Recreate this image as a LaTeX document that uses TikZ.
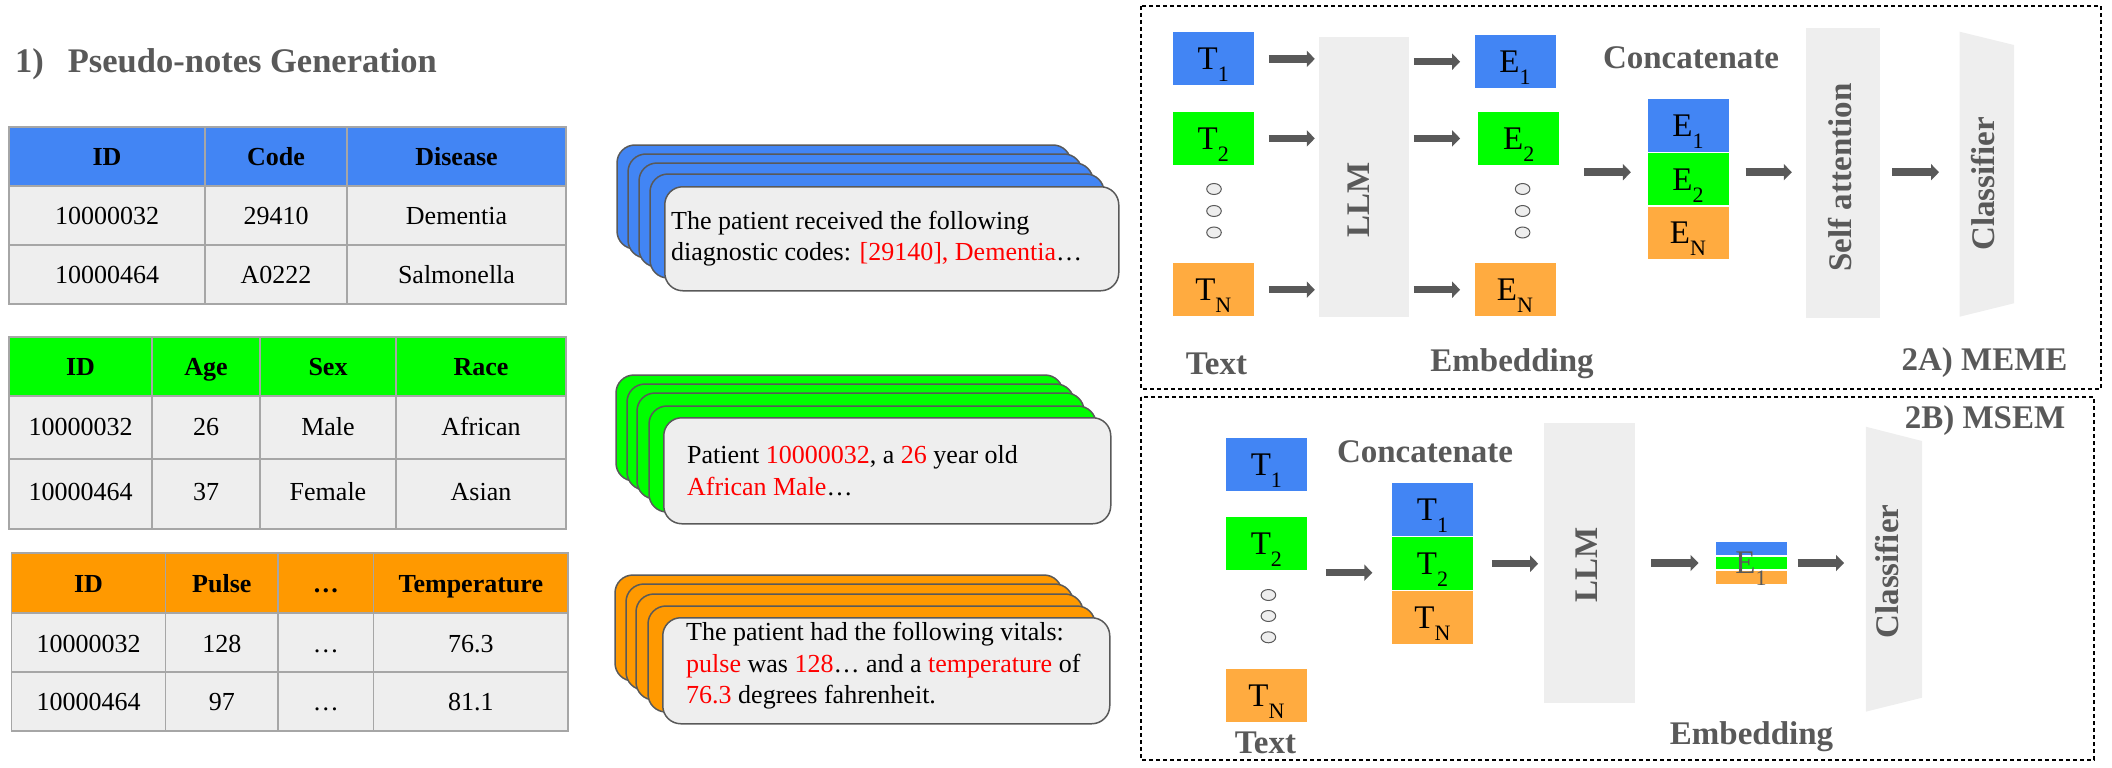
\documentclass[tikz,border=0pt]{standalone}
\usepackage{fontspec}
\setmainfont{Liberation Serif}
\usetikzlibrary{arrows.meta,calc}

\definecolor{gblue}{HTML}{4285F4}
\definecolor{ggreen}{HTML}{00FF00}
\definecolor{gorange}{HTML}{FF9900}
\definecolor{torange}{HTML}{FFAB40}
\definecolor{boxgray}{HTML}{EEEEEE}
\definecolor{gridgray}{HTML}{A6A6A6}
\definecolor{darkgray}{HTML}{595959}

\newcommand{\fs}[1]{\fontsize{#1}{#1}\selectfont}
\newcommand{\tsub}[2]{#1\raisebox{-12pt}[0pt][0pt]{\fs{22}#2}}

\tikzset{
	th/.style={font=\fs{26}\bfseries, inner sep=0pt, text height=18.5pt, text depth=0pt},
	td/.style={font=\fs{26}, inner sep=0pt, text height=18.5pt, text depth=0pt},
	tabline/.style={draw=gridgray, line width=1.5pt},
	card/.style={draw=darkgray, line width=1.5pt, rounded corners=18pt},
	notetext/.style={font=\fontsize{26}{31.7}\selectfont, align=left, inner sep=0pt},
	tok/.style={minimum width=82pt, minimum height=54pt, inner sep=0pt, font=\fs{33}, draw=white, line width=1pt},
	blk/.style={fill=boxgray, inner sep=0pt},
	lbl/.style={font=\fs{33}\bfseries, text=darkgray, inner sep=0pt},
	arr/.style={draw=darkgray, line width=7.5pt, -{Triangle[width=16pt,length=8pt]}},
	vdot/.style={draw=darkgray, fill=boxgray, line width=1pt},
	panel/.style={draw=black, line width=1.2pt, dash pattern=on 4pt off 3pt}
}

\begin{document}
\begin{tikzpicture}[x=1pt, y=-1pt]
	\useasboundingbox (0,0) rectangle (2112,768);

	\node[lbl, font=\fs{34.5}\bfseries, anchor=base west] (title) at (15,72.7) {1)\hspace{24pt}Pseudo-notes Generation};

	% diagnoses table
	\fill[gblue] (9,127) rectangle (566,186);
	\fill[boxgray] (9,186) rectangle (566,304);
	\draw[tabline] (9,127) rectangle (566,304)
		(9,186) -- (566,186) (9,245) -- (566,245)
		(205,127) -- (205,304) (347,127) -- (347,304);
	\node[th] (dx-id) at (107,156.5) {ID};
	\node[th] (dx-code) at (276,156.5) {Code};
	\node[th] (dx-dis) at (456.5,156.5) {Disease};
	\node[td] (dx-id1) at (107,215.5) {10000032};
	\node[td] (dx-code1) at (276,215.5) {29410};
	\node[td] (dx-dis1) at (456.5,215.5) {Dementia};
	\node[td] (dx-id2) at (107,274.5) {10000464};
	\node[td] (dx-code2) at (276,274.5) {A0222};
	\node[td] (dx-dis2) at (456.5,274.5) {Salmonella};

	% demographics table
	\fill[ggreen] (9,337) rectangle (566,396);
	\fill[boxgray] (9,396) rectangle (566,529);
	\draw[tabline] (9,337) rectangle (566,529)
		(9,396) -- (566,396) (9,459) -- (566,459)
		(152,337) -- (152,529) (260,337) -- (260,529) (396,337) -- (396,529);
	\node[th] (dm-id) at (80.5,366.5) {ID};
	\node[th] (dm-age) at (206,366.5) {Age};
	\node[th] (dm-sex) at (328,366.5) {Sex};
	\node[th] (dm-race) at (481,366.5) {Race};
	\node[td] (dm-id1) at (80.5,426) {10000032};
	\node[td] (dm-age1) at (206,426) {26};
	\node[td] (dm-sex1) at (328,426) {Male};
	\node[td] (dm-race1) at (481,426) {African};
	\node[td] (dm-id2) at (80.5,491) {10000464};
	\node[td] (dm-age2) at (206,491) {37};
	\node[td] (dm-sex2) at (328,491) {Female};
	\node[td] (dm-race2) at (481,491) {Asian};

	% vitals table
	\fill[gorange] (11.5,553) rectangle (568,613);
	\fill[boxgray] (11.5,613) rectangle (568,731);
	\draw[tabline] (11.5,553) rectangle (568,731)
		(11.5,613) -- (568,613) (11.5,672) -- (568,672)
		(165.5,553) -- (165.5,731) (278,553) -- (278,731) (373.6,553) -- (373.6,731);
	\node[th] (vt-id) at (88.5,583.3) {ID};
	\node[th] (vt-pulse) at (221.8,583.3) {Pulse};
	\node[th] (vt-dots) at (325.8,583.3) {…};
	\node[th] (vt-temp) at (470.8,583.3) {Temperature};
	\node[td] (vt-id1) at (88.5,643) {10000032};
	\node[td] (vt-pulse1) at (221.8,643) {128};
	\node[td] (vt-dots1) at (325.8,643) {…};
	\node[td] (vt-temp1) at (470.8,643) {76.3};
	\node[td] (vt-id2) at (88.5,701.7) {10000464};
	\node[td] (vt-pulse2) at (221.8,701.7) {97};
	\node[td] (vt-dots2) at (325.8,701.7) {…};
	\node[td] (vt-temp2) at (470.8,701.7) {81.1};

	% pseudo-notes
	\draw[card, fill=gblue] (617,145) rectangle ++(454,104);
	\draw[card, fill=gblue] (628,154) rectangle ++(454,104);
	\draw[card, fill=gblue] (639,163) rectangle ++(454,104);
	\draw[card, fill=gblue] (650,174) rectangle ++(454,104);
	\node[card, fill=boxgray, minimum width=454pt, minimum height=104pt, inner sep=0pt, anchor=north west] (noteA) at (664,186) {};
	\node[notetext, anchor=west] (textA) at ([xshift=7pt]noteA.west) {The patient received the following\\diagnostic codes: \textcolor{red}{[29140], Dementia}…};

	\draw[card, fill=ggreen] (616,375) rectangle ++(447,106);
	\draw[card, fill=ggreen] (627,384) rectangle ++(447,106);
	\draw[card, fill=ggreen] (637,393) rectangle ++(447,106);
	\draw[card, fill=ggreen] (649,406) rectangle ++(447,106);
	\node[card, fill=boxgray, minimum width=447pt, minimum height=106pt, inner sep=0pt, anchor=north west] (noteB) at (663,417) {};
	\node[notetext, anchor=west] (textB) at ([xshift=24pt]noteB.west) {Patient \textcolor{red}{10000032}, a \textcolor{red}{26} year old\\\textcolor{red}{African Male}…};

	\draw[card, fill=gorange] (615,575) rectangle ++(447,106);
	\draw[card, fill=gorange] (626,584) rectangle ++(447,106);
	\draw[card, fill=gorange] (636,594) rectangle ++(447,106);
	\draw[card, fill=gorange] (648,606) rectangle ++(447,106);
	\node[card, fill=boxgray, minimum width=447pt, minimum height=106pt, inner sep=0pt, anchor=north west] (noteC) at (662,617) {};
	\node[notetext, anchor=west] (textC) at ([xshift=24pt,yshift=5pt]noteC.west) {The patient had the following vitals:\\\textcolor{red}{pulse} was \textcolor{red}{128}… and a \textcolor{red}{temperature} of\\\textcolor{red}{76.3} degrees fahrenheit.};

	% 2A) MEME
	\draw[panel] (1141,6) rectangle (2101,389);
	\node[tok, fill=gblue] (t1A) at (1213.3,58.9) {\tsub{T}{1}};
	\node[tok, fill=ggreen] (t2A) at (1213.3,138.4) {\tsub{T}{2}};
	\node[tok, fill=torange] (tNA) at (1213.3,289.7) {\tsub{T}{N}};
	\draw[vdot] (1214,189) ellipse (7.3 and 5.5);
	\draw[vdot] (1214,211) ellipse (7.3 and 5.5);
	\draw[vdot] (1214,232.5) ellipse (7.3 and 5.5);
	\node[blk, minimum width=90pt, minimum height=280pt] (llmA) at (1364,177.3) {};
	\node[lbl, rotate=90] (llmlA) at (1359,199.5) {LLM};
	\node[tok, fill=gblue] (e1A) at (1515,61.7) {\tsub{E}{1}};
	\node[tok, fill=ggreen] (e2A) at (1518.8,138.4) {\tsub{E}{2}};
	\node[tok, fill=torange] (eNA) at (1515,289.7) {\tsub{E}{N}};
	\draw[vdot] (1522.6,189) ellipse (7.3 and 5.5);
	\draw[vdot] (1522.6,211) ellipse (7.3 and 5.5);
	\draw[vdot] (1522.6,232.5) ellipse (7.3 and 5.5);
	\node[tok, fill=gblue, minimum height=53.5pt] (c1A) at (1688,125.7) {\tsub{E}{1}};
	\node[tok, fill=ggreen, minimum height=53.5pt] (c2A) at (1688,179.2) {\tsub{E}{2}};
	\node[tok, fill=torange, minimum height=53.5pt] (cNA) at (1688,232.9) {\tsub{E}{N}};
	\node[blk, minimum width=74.4pt, minimum height=289.4pt] (saA) at (1842.8,173) {};
	\node[lbl, rotate=90] (salA) at (1840,177.5) {Self attention};
	\fill[boxgray] (1959.7,31.7) -- (2014,45) -- (2014,303.3) -- (1959.7,316.7) -- cycle;
	\coordinate (clsA) at (1959.7,172);
	\node[lbl, rotate=90] (clslA) at (1983.5,183.7) {Classifier};
	\coordinate (catinA) at ([yshift=7pt]c2A.west);

	\draw[arr, shorten <=14pt, shorten >=4pt] (t1A.east) -- (t1A.east -| llmA.west);
	\draw[arr, shorten <=14pt, shorten >=4pt] (t2A.east) -- (t2A.east -| llmA.west);
	\draw[arr, shorten <=14pt, shorten >=4pt] (tNA.east) -- (tNA.east -| llmA.west);
	\draw[arr, shorten <=4.7pt, shorten >=13.4pt] (llmA.east |- e1A) -- (e1A.west);
	\draw[arr, shorten <=4.7pt, shorten >=13.4pt] (llmA.east |- e2A) -- (e1A.west |- e2A);
	\draw[arr, shorten <=4.7pt, shorten >=13.4pt] (llmA.east |- eNA) -- (eNA.west);
	\draw[arr, shorten <=24pt, shorten >=15.6pt] (e2A.east |- catinA) -- (catinA);
	\draw[arr, shorten <=16pt, shorten >=13.6pt] (catinA -| c2A.east) -- (catinA -| saA.west);
	\draw[arr, shorten <=12pt, shorten >=20.7pt] (catinA -| saA.east) -- (catinA -| clsA);

	\node[lbl] (catA) at (1691,57.5) {Concatenate};
	\node[lbl] (txtlA) at (1216.5,363.4) {Text};
	\node[lbl] (embA) at (1512,364) {Embedding};
	\node[lbl] (meme) at (1984.5,363) {2A) MEME};

	% 2B) MSEM
	\draw[panel] (1141,397) rectangle (2094,760);
	\node[tok, fill=gblue] (t1B) at (1266.4,464.4) {\tsub{T}{1}};
	\node[tok, fill=ggreen] (t2B) at (1266.4,543.7) {\tsub{T}{2}};
	\node[tok, fill=torange] (tNB) at (1266.4,695.7) {\tsub{T}{N}};
	\draw[vdot] (1268.4,595) ellipse (7.3 and 5.5);
	\draw[vdot] (1268.4,616) ellipse (7.3 and 5.5);
	\draw[vdot] (1268.4,637.3) ellipse (7.3 and 5.5);
	\node[tok, fill=gblue] (c1B) at (1432.5,509.7) {\tsub{T}{1}};
	\node[tok, fill=ggreen] (c2B) at (1432.5,563.7) {\tsub{T}{2}};
	\node[tok, fill=torange] (cNB) at (1432.5,617.5) {\tsub{T}{N}};
	\node[blk, minimum width=90.7pt, minimum height=280pt] (llmB) at (1589.4,563.3) {};
	\node[lbl, rotate=90] (llmlB) at (1586.5,565) {LLM};
	\node[tok, fill=gblue, minimum width=72pt, minimum height=14pt] (m1) at (1751,548.7) {};
	\node[tok, fill=ggreen, minimum width=72pt, minimum height=12.6pt] (m2) at (1751,563) {};
	\node[tok, fill=torange, minimum width=72pt, minimum height=14.3pt] (m3) at (1751,577.8) {};
	\node[inner sep=0pt, font=\fs{33}, text=darkgray] (e1B) at (1751,563) {\tsub{E}{1}};
	\fill[boxgray] (1865.8,426.7) -- (1922,441) -- (1922,697.7) -- (1865.8,711.7) -- cycle;
	\coordinate (clsB) at (1865.8,563);
	\node[lbl, rotate=90] (clslB) at (1887,571.5) {Classifier};
	\coordinate (catinB) at ([yshift=-9pt]c2B.west);

	\draw[arr, shorten <=18pt, shorten >=18.7pt] (t2B.east |- catinB) -- (catinB);
	\draw[arr, shorten <=18pt, shorten >=5.7pt] (c2B.east) -- (c2B.east -| llmB.west);
	\draw[arr, shorten <=16.3pt, shorten >=16pt] (llmB.east |- m2) -- (m2.west);
	\draw[arr, shorten <=10pt, shorten >=21.8pt] (m2.east) -- (m2 -| clsB);

	\node[lbl] (msem) at (1985,421) {2B) MSEM};
	\node[lbl] (catB) at (1425,452) {Concatenate};
	\node[lbl] (txtlB) at (1265.5,742.5) {Text};
	\node[lbl] (embB) at (1751.5,737) {Embedding};
\end{tikzpicture}
\end{document}
